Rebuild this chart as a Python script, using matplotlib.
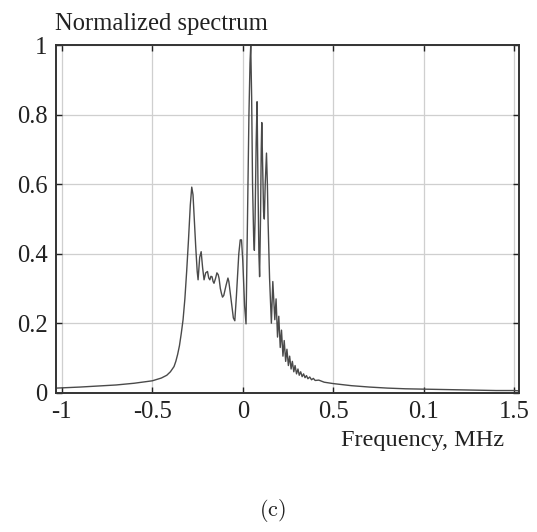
import matplotlib
matplotlib.use("Agg")
import matplotlib.pyplot as plt

# Frequency (MHz) and normalized spectrum values
freq = [-1.03, -0.9, -0.8, -0.7, -0.6, -0.5, -0.45, -0.42, -0.40, -0.38, -0.37, -0.36,
        -0.35, -0.34, -0.33, -0.32, -0.31, -0.30, -0.29, -0.282, -0.275, -0.268, -0.26,
        -0.252, -0.247, -0.238, -0.230, -0.222, -0.214, -0.205, -0.195, -0.188, -0.182,
        -0.176, -0.170, -0.164, -0.159, -0.15, -0.143, -0.136, -0.131, -0.124, -0.118,
        -0.112, -0.105, -0.092, -0.082, -0.077, -0.065, -0.052, -0.044, -0.035, -0.022,
        -0.014, -0.007, 0.000, 0.010, 0.018, 0.026, 0.034, 0.040, 0.044, 0.049, 0.054,
        0.060, 0.064, 0.068, 0.074, 0.079, 0.084, 0.089, 0.093, 0.098, 0.102, 0.105,
        0.110, 0.115, 0.119, 0.124, 0.131, 0.136, 0.140, 0.148, 0.158,
        0.166, 0.177, 0.184, 0.192, 0.199, 0.207, 0.214, 0.222, 0.229, 0.237, 0.244,
        0.252, 0.259, 0.267, 0.274, 0.282, 0.289, 0.297, 0.305, 0.312, 0.320, 0.328,
        0.336, 0.344, 0.352, 0.36, 0.37, 0.38, 0.39, 0.40, 0.42, 0.45, 0.5, 0.6, 0.7,
        0.8, 0.9, 1.0, 1.1, 1.2, 1.3, 1.4, 1.5, 1.528]
spectrum = [0.013, 0.016, 0.019, 0.022, 0.027, 0.034, 0.042, 0.05, 0.06, 0.075, 0.09, 0.11,
            0.135, 0.17, 0.21, 0.27, 0.35, 0.44, 0.54, 0.592, 0.57, 0.5, 0.42,
            0.35, 0.325, 0.39, 0.406, 0.36, 0.325, 0.345, 0.349, 0.33, 0.325,
            0.335, 0.334, 0.32, 0.315, 0.33, 0.345, 0.34, 0.329, 0.30, 0.286,
            0.275, 0.28, 0.31, 0.33, 0.32, 0.27, 0.215, 0.207, 0.28, 0.40,
            0.44, 0.44, 0.38, 0.25, 0.198, 0.5, 0.8, 0.95, 1.0, 0.85, 0.6,
            0.45, 0.41, 0.5, 0.72, 0.838, 0.6, 0.4, 0.334, 0.5, 0.7, 0.778,
            0.65, 0.52, 0.5, 0.6, 0.69, 0.6, 0.49, 0.33, 0.2,
            0.32, 0.21, 0.27, 0.16, 0.22, 0.13, 0.18, 0.105, 0.15, 0.09, 0.125,
            0.078, 0.105, 0.068, 0.09, 0.06, 0.078, 0.054, 0.068, 0.05, 0.06, 0.046,
            0.054, 0.043, 0.049, 0.04, 0.045, 0.037, 0.041, 0.035, 0.036, 0.03, 0.026, 0.02, 0.016,
            0.013, 0.011, 0.01, 0.009, 0.008, 0.007, 0.006, 0.006, 0.005]

xticks = [-1, -0.5, 0, 0.5, 1, 1.5]
xticklabels = ["-1", "-0.5", "0", "0.5", "0.1", "1.5"]
yticks = [0, 0.2, 0.4, 0.6, 0.8, 1]
yticklabels = ["0", "0.2", "0.4", "0.6", "0.8", "1"]

plt.rcParams['font.family'] = ['Liberation Serif', 'DejaVu Serif']
plt.rcParams['mathtext.fontset'] = 'cm'

fig = plt.figure(figsize=(5.37, 5.32), dpi=100)
ax = fig.add_axes([0.104, 0.262, 0.863, 0.6525])

ax.plot(freq, spectrum, color='#4a4a4a', linewidth=1.0)

ax.set_xlim(-1.033, 1.528)
ax.set_ylim(0, 1)
ax.set_xticks(xticks)
ax.set_xticklabels(xticklabels)
ax.set_yticks(yticks)
ax.set_yticklabels(yticklabels)
ax.grid(True, color='#cfcfcf', linewidth=0.9)
ax.set_axisbelow(True)
ax.tick_params(direction='in', top=True, right=True, length=4, width=1,
               labelsize=17.7, pad=6, colors='#222222')
for s in ax.spines.values():
    s.set_linewidth(1.4)
    s.set_color('#333333')

fig.text(0.1024, 0.9436, "Normalized spectrum", ha='left', va='baseline', fontsize=17.7, color='#222222')
fig.text(0.9385, 0.1617, "Frequency, MHz", ha='right', va='baseline', fontsize=17.5, color='#222222')
fig.text(0.507, 0.04, r"$\mathrm{(c)}$", ha='center', va='center', fontsize=16, color='#222222')

fig.savefig("out.png", dpi=100)
